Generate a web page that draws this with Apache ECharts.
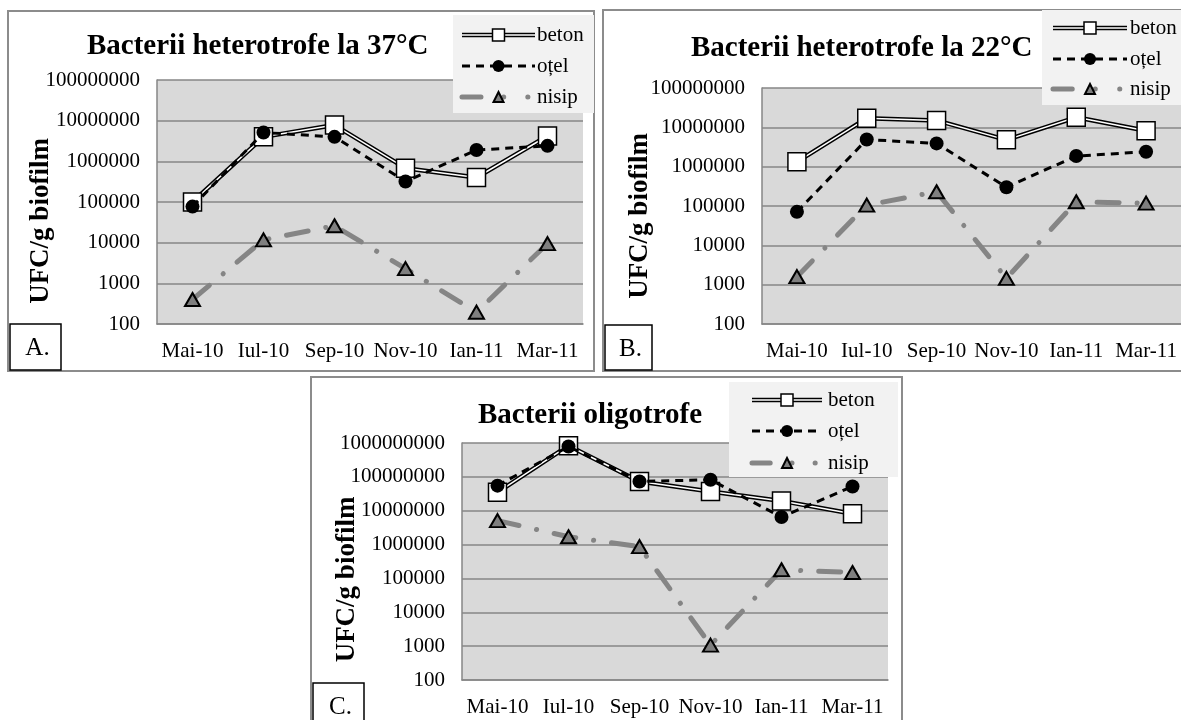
<!DOCTYPE html>
<html>
<head>
<meta charset="utf-8">
<script src="https://cdn.jsdelivr.net/npm/echarts@6/dist/echarts.min.js"></script>
<style>
  html, body { margin: 0; padding: 0; background: #fff; }
  #chartsDiv { width: 1181px; height: 720px; }
</style>
</head>
<body>
<div id="chartsDiv"></div>
<script>
var categories = ['Mai-10', 'Iul-10', 'Sep-10', 'Nov-10', 'Ian-11', 'Mar-11']
var seriesNames = ['beton', 'oțel', 'nisip']

// A. heterotrofe 37°C
var betonA = [100000, 4000000, 7800000, 680000, 400000, 4200000]
var otelA = [77000, 5100000, 4000000, 320000, 1900000, 2400000]
var nisipA = [400, 11700, 26000, 2300, 195, 9500]
// B. heterotrofe 22°C
var betonB = [1330000, 17000000, 15000000, 4800000, 18000000, 8200000]
var otelB = [71000, 4900000, 3900000, 300000, 1860000, 2400000]
var nisipB = [1600, 105000, 230000, 1450, 128000, 118000]
// C. oligotrofe
var betonC = [35000000, 830000000, 73000000, 37000000, 19500000, 8100000]
var otelC = [55000000, 790000000, 73000000, 82000000, 6500000, 52000000]
var nisipC = [5100000, 1700000, 870000, 1070, 180000, 150000]

var SERIF = 'Liberation Serif'
var GRID_GRAY = '#868686'
var NISIP_GRAY = '#858585'
var NISIP_DASH = [22, 18, 0.1, 18]
var OTEL_DASH = [8, 6]

var realChart = echarts.init(document.getElementById('chartsDiv'), null, {
  renderer: 'canvas'
})

var makeX = function(i) {
  return {
    type: 'category',
    gridIndex: i,
    data: categories,
    boundaryGap: true,
    axisLine: { lineStyle: { color: GRID_GRAY, width: 1.5 } },
    axisTick: { show: false },
    axisLabel: {
      interval: 0,
      margin: 17,
      color: '#000',
      fontFamily: SERIF,
      fontSize: 21
    },
    splitLine: { show: false }
  }
}

// pad: pushes the rotated name down along the axis (Excel centres it lower)
var makeY = function(i, max, gap, pad) {
  return {
    type: 'log',
    gridIndex: i,
    logBase: 10,
    min: 100,
    max: max,
    name: 'UFC/g biofilm',
    nameLocation: 'middle',
    nameGap: gap,
    nameMoveOverlap: false,
    nameTextStyle: {
      color: '#000',
      fontFamily: SERIF,
      fontWeight: 'bold',
      fontSize: 27,
      padding: [0, pad, 0, 0]
    },
    axisLine: { show: true, lineStyle: { color: GRID_GRAY, width: 1.5 } },
    axisTick: { show: false },
    axisLabel: {
      margin: 17,
      color: '#000',
      fontFamily: SERIF,
      fontSize: 21,
      formatter: function(v) {
        return String(Math.round(v))
      }
    },
    splitLine: { show: true, lineStyle: { color: GRID_GRAY, width: 1.5 } }
  }
}

var panelSeries = function(i, beton, otel, nisip) {
  return [
    {
      name: 'beton',
      type: 'line',
      xAxisIndex: i,
      yAxisIndex: i,
      data: beton,
      symbol: 'none',
      lineStyle: { color: '#000', width: 4.5 },
      z: 2
    },
    {
      name: 'beton',
      type: 'line',
      xAxisIndex: i,
      yAxisIndex: i,
      data: beton,
      symbol: 'rect',
      symbolSize: 18,
      itemStyle: { color: '#fff', borderColor: '#000', borderWidth: 1.5 },
      lineStyle: { color: '#fff', width: 1.5 },
      z: 3
    },
    {
      name: 'oțel',
      type: 'line',
      xAxisIndex: i,
      yAxisIndex: i,
      data: otel,
      symbol: 'circle',
      symbolSize: 14,
      itemStyle: { color: '#000' },
      lineStyle: { color: '#000', width: 3, type: OTEL_DASH },
      z: 4
    },
    {
      name: 'nisip',
      type: 'line',
      xAxisIndex: i,
      yAxisIndex: i,
      data: nisip,
      symbol: 'triangle',
      symbolSize: [15, 13],
      itemStyle: { color: '#7f7f7f', borderColor: '#000', borderWidth: 2 },
      lineStyle: { color: NISIP_GRAY, width: 5, type: NISIP_DASH, cap: 'round' },
      z: 5
    }
  ]
}

// legend drawn by hand (beton has a double line)
var legendBox = function(bx, by, bw, bh, rows, x0, x1, tx) {
  var mx = (x0 + x1) / 2
  var L = x1 - x0
  var nisipSample = [0.26 * L, 0.31 * L, 0.1, 0.33 * L, 0.1, L]
  var els = [
    { type: 'rect', shape: { x: bx, y: by, width: bw, height: bh }, style: { fill: '#f2f2f2' } },
    // beton
    { type: 'line', shape: { x1: x0, y1: rows[0], x2: x1, y2: rows[0] }, style: { stroke: '#000', lineWidth: 4.5 } },
    { type: 'line', shape: { x1: x0, y1: rows[0], x2: x1, y2: rows[0] }, style: { stroke: '#fff', lineWidth: 1.5 } },
    { type: 'rect', shape: { x: mx - 6, y: rows[0] - 6, width: 12, height: 12 }, style: { fill: '#fff', stroke: '#000', lineWidth: 1.5 } },
    // otel
    { type: 'line', shape: { x1: x0, y1: rows[1], x2: x1, y2: rows[1] }, style: { stroke: '#000', lineWidth: 3, lineDash: OTEL_DASH } },
    { type: 'circle', shape: { cx: mx, cy: rows[1], r: 6 }, style: { fill: '#000' } },
    // nisip
    { type: 'line', shape: { x1: x0, y1: rows[2], x2: x1, y2: rows[2] }, style: { stroke: NISIP_GRAY, lineWidth: 5, lineDash: nisipSample, lineCap: 'round' } },
    { type: 'polygon', shape: { points: [[mx, rows[2] - 5], [mx + 5, rows[2] + 5], [mx - 5, rows[2] + 5]] }, style: { fill: '#7f7f7f', stroke: '#000', lineWidth: 2 } }
  ]
  for (var k = 0; k < 3; k++) {
    els.push({
      type: 'text',
      style: {
        text: seriesNames[k],
        x: tx,
        y: rows[k],
        fill: '#000',
        fontFamily: SERIF,
        fontSize: 21,
        verticalAlign: 'middle'
      }
    })
  }
  return els
}

var letterBox = function(x, y, w, h, letter) {
  return [
    { type: 'rect', shape: { x: x, y: y, width: w, height: h }, style: { fill: '#fff', stroke: '#000', lineWidth: 1.5 } },
    { type: 'text', style: { text: letter, x: x + w / 2 + 2, y: y + 24, fill: '#000', fontFamily: SERIF, fontSize: 25, align: 'center', verticalAlign: 'middle' } }
  ]
}

var frame = function(x, y, w, h) {
  return { type: 'rect', shape: { x: x, y: y, width: w, height: h }, style: { fill: 'none', stroke: '#8c8c8c', lineWidth: 2 } }
}

var graphics = [frame(8, 11, 586, 360), frame(603, 10, 600, 361), frame(311, 377, 591, 360)]
  .concat(legendBox(453, 15, 141, 98, [35, 66, 97], 462, 535, 537))
  .concat(legendBox(1042, 10, 139, 95, [28, 59, 89], 1053, 1127, 1130))
  .concat(legendBox(729, 382, 169, 95, [400, 431, 463], 752, 822, 828))
  .concat(letterBox(10, 324, 51, 46, 'A.'))
  .concat(letterBox(605, 325, 47, 45, 'B.'))
  .concat(letterBox(313, 683, 51, 46, 'C.'))

var titleStyle = {
  color: '#000',
  fontFamily: SERIF,
  fontWeight: 'bold',
  fontSize: 29
}

var option = {
  backgroundColor: '#fff',
  animation: false,
  title: [
    { text: 'Bacterii heterotrofe la 37°C', left: 87, top: 32, padding: 0, textStyle: titleStyle },
    { text: 'Bacterii heterotrofe la 22°C', left: 691, top: 34, padding: 0, textStyle: titleStyle },
    { text: 'Bacterii oligotrofe', left: 478, top: 401, padding: 0, textStyle: titleStyle }
  ],
  grid: [
    { left: 157, top: 80, width: 426, height: 244, show: true, backgroundColor: '#d9d9d9', borderWidth: 0 },
    { left: 762, top: 88, width: 419, height: 236, show: true, backgroundColor: '#d9d9d9', borderWidth: 0 },
    { left: 462, top: 443, width: 426, height: 237, show: true, backgroundColor: '#d9d9d9', borderWidth: 0 }
  ],
  xAxis: [makeX(0), makeX(1), makeX(2)],
  yAxis: [
    makeY(0, 100000000, 102, 38),
    makeY(1, 100000000, 108, 20),
    makeY(2, 1000000000, 101, 36)
  ],
  series: panelSeries(0, betonA, otelA, nisipA)
    .concat(panelSeries(1, betonB, otelB, nisipB))
    .concat(panelSeries(2, betonC, otelC, nisipC)),
  graphic: { elements: graphics.map(function(g) { g.z = 100; return g }) }
}

realChart.setOption(option)
</script>
</body>
</html>
